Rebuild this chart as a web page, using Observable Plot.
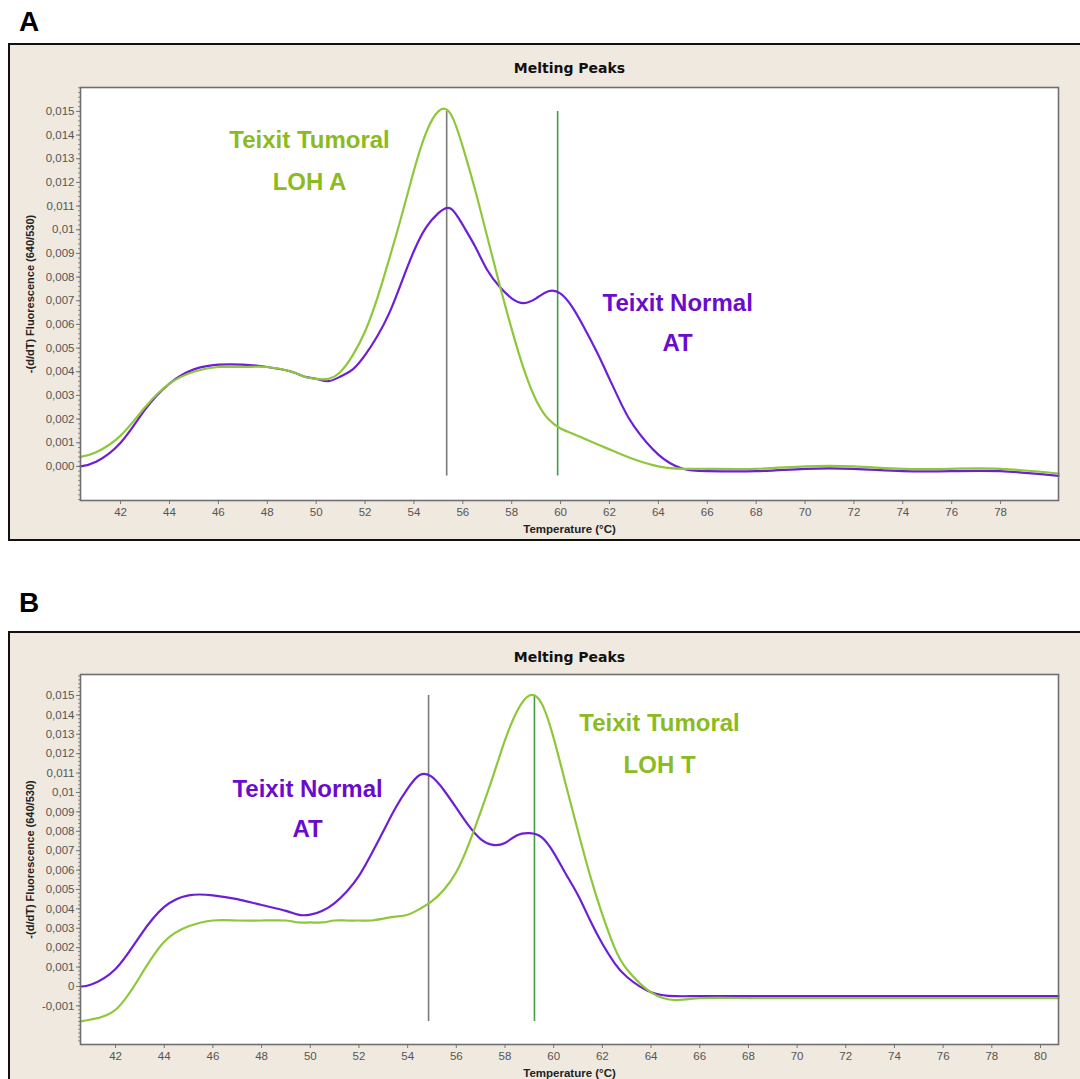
<!DOCTYPE html>
<html>
<head>
<meta charset="utf-8">
<script src="https://cdn.jsdelivr.net/npm/d3@7"></script>
<script src="https://cdn.jsdelivr.net/npm/@observablehq/plot@0.6"></script>
<style>
  html, body { margin: 0; padding: 0; background: #ffffff; }
  body { width: 1080px; height: 1079px; position: relative; overflow: hidden; font-family: "Liberation Sans", Arial, sans-serif; }
  .letter { position: absolute; font: bold 28px/28px "Liberation Sans", Arial, sans-serif; color: #000; }
  .frame { position: absolute; left: 8px; width: 1100px; box-sizing: border-box; background: #efe9e0; border: 2px solid #111; border-right: none; }
  .panel { position: absolute; left: 0; }
  .panel svg { overflow: visible; }
</style>
</head>
<body>
<div class="letter" style="left:19px; top:8px;">A</div>
<div class="frame" style="top:43px; height:498px;"></div>
<div id="panelA" class="panel" style="top:43px;"></div>
<div class="letter" style="left:19px; top:589px;">B</div>
<div class="frame" style="top:631px; height:500px;"></div>
<div id="panelB" class="panel" style="top:631px;"></div>
<script>
// ---------- Panel A data ----------
const tempsA = [40.36, 41, 42, 43, 44, 45, 46, 47, 48, 49, 49.5, 50, 50.5, 51, 51.5, 52, 52.5, 53, 53.5, 54, 54.5, 55, 55.5, 56, 56.5, 57, 57.5, 58, 58.5, 59, 59.5, 60, 60.5, 61, 61.5, 62, 62.5, 63, 64, 65, 66, 68, 70, 72, 74, 76, 78, 80.37];
const normalA = [0.0000, 0.0002, 0.0010, 0.0024, 0.0035, 0.0041, 0.0043, 0.0043, 0.0042, 0.0040, 0.0038, 0.0037, 0.0036, 0.0038, 0.0041, 0.0047, 0.0055, 0.0065, 0.0078, 0.0091, 0.0101, 0.0107, 0.0109, 0.0102, 0.0093, 0.0083, 0.0076, 0.0071, 0.0069, 0.0071, 0.0074, 0.0073, 0.0067, 0.0058, 0.0048, 0.0037, 0.0026, 0.0017, 0.0005, -0.0001, -0.0002, -0.0002, -0.0001, -0.0001, -0.0002, -0.0002, -0.0002, -0.0004];
const tumoralA = [0.0004, 0.0006, 0.0013, 0.0025, 0.0035, 0.0040, 0.0042, 0.0042, 0.0042, 0.0040, 0.0038, 0.0037, 0.0037, 0.0040, 0.0047, 0.0057, 0.0071, 0.0088, 0.0106, 0.0125, 0.0141, 0.0150, 0.0149, 0.0135, 0.0117, 0.0097, 0.0077, 0.0058, 0.0041, 0.0028, 0.0020, 0.0016, 0.00138, 0.00116, 0.00094, 0.00072, 0.0005, 0.0003, 0.0000, -0.0001, -0.0001, -0.0001, 0.0000, 0.0000, -0.0001, -0.0001, -0.0001, -0.0003];
const refTempsA = [55.34, 59.88];
const refTopA = [0.015, 0.015];
const refBottomA = [-0.0004, -0.0004];
const xDomainA = [40.36, 80.37];
const yDomainA = [-0.00144, 0.01601];
const xTicksA = [42, 44, 46, 48, 50, 52, 54, 56, 58, 60, 62, 64, 66, 68, 70, 72, 74, 76, 78];
const yTicksA = [0, 0.001, 0.002, 0.003, 0.004, 0.005, 0.006, 0.007, 0.008, 0.009, 0.01, 0.011, 0.012, 0.013, 0.014, 0.015];
const yTickLabelsA = ["0,000", "0,001", "0,002", "0,003", "0,004", "0,005", "0,006", "0,007", "0,008", "0,009", "0,01", "0,011", "0,012", "0,013", "0,014", "0,015"];
const labelTextsA = ["Teixit Tumoral", "LOH A", "Teixit Normal", "AT"];
const labelXA = [49.73, 49.73, 64.79, 64.79];
const labelYA = [0.01377, 0.0120, 0.00689, 0.0052];
const labelSeriesA = ["tumoral", "tumoral", "normal", "normal"];

// ---------- Panel B data ----------
const tempsB = [40.56, 41, 42, 43, 44, 45, 46, 47, 48, 49, 49.5, 50, 50.5, 51, 51.5, 52, 52.5, 53, 53.5, 54, 54.5, 55, 55.5, 56, 56.5, 57, 57.5, 58, 58.5, 59, 59.5, 60, 60.5, 61, 61.5, 62, 62.5, 63, 64, 65, 66, 68, 70, 72, 74, 76, 78, 80.74];
const normalB = [0.0000, 0.0001, 0.0009, 0.0026, 0.0041, 0.0047, 0.0047, 0.0045, 0.0042, 0.0039, 0.0037, 0.0037, 0.0039, 0.0043, 0.0049, 0.0057, 0.0068, 0.0080, 0.0092, 0.0102, 0.0109, 0.0108, 0.0101, 0.0092, 0.0083, 0.0076, 0.0073, 0.0074, 0.0078, 0.0079, 0.0077, 0.0069, 0.0058, 0.0047, 0.0034, 0.0022, 0.0012, 0.0005, -0.0003, -0.0005, -0.0005, -0.0005, -0.0005, -0.0005, -0.0005, -0.0005, -0.0005, -0.0005];
const tumoralB = [-0.0018, -0.0017, -0.0012, 0.0005, 0.0023, 0.0031, 0.0034, 0.0034, 0.0034, 0.0034, 0.0033, 0.0033, 0.0033, 0.0034, 0.0034, 0.0034, 0.0034, 0.0035, 0.0036, 0.0037, 0.0040, 0.0044, 0.0050, 0.0059, 0.0073, 0.0090, 0.0108, 0.0127, 0.0142, 0.0150, 0.0146, 0.0128, 0.0104, 0.0080, 0.0057, 0.0037, 0.0020, 0.0009, -0.0003, -0.0007, -0.0006, -0.0006, -0.0006, -0.0006, -0.0006, -0.0006, -0.0006, -0.0006];
const refTempsB = [54.86, 59.21];
const refTopB = [0.015, 0.015];
const refBottomB = [-0.0018, -0.0018];
const xDomainB = [40.56, 80.74];
const yDomainB = [-0.00299, 0.01608];
const xTicksB = [42, 44, 46, 48, 50, 52, 54, 56, 58, 60, 62, 64, 66, 68, 70, 72, 74, 76, 78, 80];
const yTicksB = [-0.001, 0, 0.001, 0.002, 0.003, 0.004, 0.005, 0.006, 0.007, 0.008, 0.009, 0.01, 0.011, 0.012, 0.013, 0.014, 0.015];
const yTickLabelsB = ["-0,001", "0", "0,001", "0,002", "0,003", "0,004", "0,005", "0,006", "0,007", "0,008", "0,009", "0,01", "0,011", "0,012", "0,013", "0,014", "0,015"];
const labelTextsB = ["Teixit Tumoral", "LOH T", "Teixit Normal", "AT"];
const labelXB = [64.35, 64.35, 49.89, 49.89];
const labelYB = [0.01356, 0.01139, 0.01015, 0.00809];
const labelSeriesB = ["tumoral", "tumoral", "normal", "normal"];

// ---------- Shared text ----------
const chartTitle = "Melting Peaks";
const xLabel = "Temperature (°C)";
const yLabel = "-(d/dT) Fluorescence (640/530)";
const refColors = ["#7a7a7a", "#3f9f47"];

const lineColors = { normal: "#6c1fd6", tumoral: "#8ec83a" };
const textColors = { normal: "#6a0ccc", tumoral: "#8cba22" };

function buildPanel(cfg) {
  const normalRows = cfg.temps.map((t, i) => ({ t, v: cfg.normal[i] }));
  const tumoralRows = cfg.temps.map((t, i) => ({ t, v: cfg.tumoral[i] }));
  const refRows = cfg.refTemps.map((t, i) => ({ t, y1: cfg.refBottom[i], y2: cfg.refTop[i], c: refColors[i] }));
  const labels = cfg.labelTexts.map((s, i) => ({ s, x: cfg.labelX[i], y: cfg.labelY[i], c: textColors[cfg.labelSeries[i]] }));
  const minorTicks = d3.range(Math.ceil(cfg.yDomain[0] / 0.0002), Math.floor(cfg.yDomain[1] / 0.0002) + 1).map(k => k * 0.0002);
  const fmtY = d => {
    const i = cfg.yTicks.findIndex(v => Math.abs(v - d) < 1e-9);
    return i >= 0 ? cfg.yTickLabels[i] : "";
  };
  return Plot.plot({
    width: 1080,
    height: cfg.height,
    marginLeft: 80,
    marginRight: 22,
    marginTop: cfg.marginTop,
    marginBottom: cfg.marginBottom,
    style: { background: "transparent", fontFamily: "Liberation Sans, Arial, sans-serif", fontSize: "12px", color: "#555" },
    x: { domain: cfg.xDomain },
    y: { domain: cfg.yDomain },
    marks: [
      Plot.frame({ fill: "white" }),
      Plot.axisY({ ticks: minorTicks, tickSize: 2, tickFormat: () => "", stroke: "#888", label: null }),
      Plot.axisY({ ticks: cfg.yTicks, tickSize: 4, tickPadding: 2, tickFormat: fmtY, stroke: "#777", fill: "#555", fontSize: 11.5, label: null }),
      Plot.axisX({ ticks: cfg.xTicks, tickSize: 4, tickPadding: 3, tickFormat: d => String(d), stroke: "#777", fill: "#555", fontSize: 11.5, label: null }),
      Plot.ruleX(refRows, { x: "t", y1: "y1", y2: "y2", stroke: "c", strokeWidth: 1.6 }),
      Plot.line(normalRows, { x: "t", y: "v", stroke: lineColors.normal, strokeWidth: 2.2, curve: "natural" }),
      Plot.line(tumoralRows, { x: "t", y: "v", stroke: lineColors.tumoral, strokeWidth: 2.2, curve: "natural" }),
      Plot.text(labels, { x: "x", y: "y", text: "s", fill: "c", fontSize: 24, fontWeight: "bold", fontFamily: "Liberation Sans, Arial, sans-serif", textAnchor: "middle", lineAnchor: "middle" }),
      Plot.frame({ stroke: "#6f6f6f", strokeWidth: 1.6 }),
      Plot.text([chartTitle], { frameAnchor: "top", dy: cfg.titleDy, text: d => d, fontSize: 14, fontWeight: "bold", fontFamily: "DejaVu Sans, sans-serif", fill: "#111", lineAnchor: "middle" }),
      Plot.text([xLabel], { frameAnchor: "bottom", dy: 29, dx: 0, text: d => d, fontSize: 11.5, fontWeight: "bold", fontFamily: "Liberation Sans, Arial, sans-serif", fill: "#222", lineAnchor: "middle" }),
      Plot.text([yLabel], { frameAnchor: "left", dx: -50, rotate: -90, text: d => d, fontSize: 11, fontWeight: "bold", fontFamily: "Liberation Sans, Arial, sans-serif", fill: "#222", lineAnchor: "middle", textAnchor: "middle" })
    ]
  });
}

document.getElementById("panelA").append(buildPanel({
  height: 498, marginTop: 44, marginBottom: 41, titleDy: -19,
  temps: tempsA, normal: normalA, tumoral: tumoralA,
  refTemps: refTempsA, refTop: refTopA, refBottom: refBottomA,
  xDomain: xDomainA, yDomain: yDomainA, xTicks: xTicksA, yTicks: yTicksA, yTickLabels: yTickLabelsA,
  labelTexts: labelTextsA, labelX: labelXA, labelY: labelYA, labelSeries: labelSeriesA
}));

document.getElementById("panelB").append(buildPanel({
  height: 448, marginTop: 43, marginBottom: 35, titleDy: -17,
  temps: tempsB, normal: normalB, tumoral: tumoralB,
  refTemps: refTempsB, refTop: refTopB, refBottom: refBottomB,
  xDomain: xDomainB, yDomain: yDomainB, xTicks: xTicksB, yTicks: yTicksB, yTickLabels: yTickLabelsB,
  labelTexts: labelTextsB, labelX: labelXB, labelY: labelYB, labelSeries: labelSeriesB
}));
</script>
</body>
</html>
